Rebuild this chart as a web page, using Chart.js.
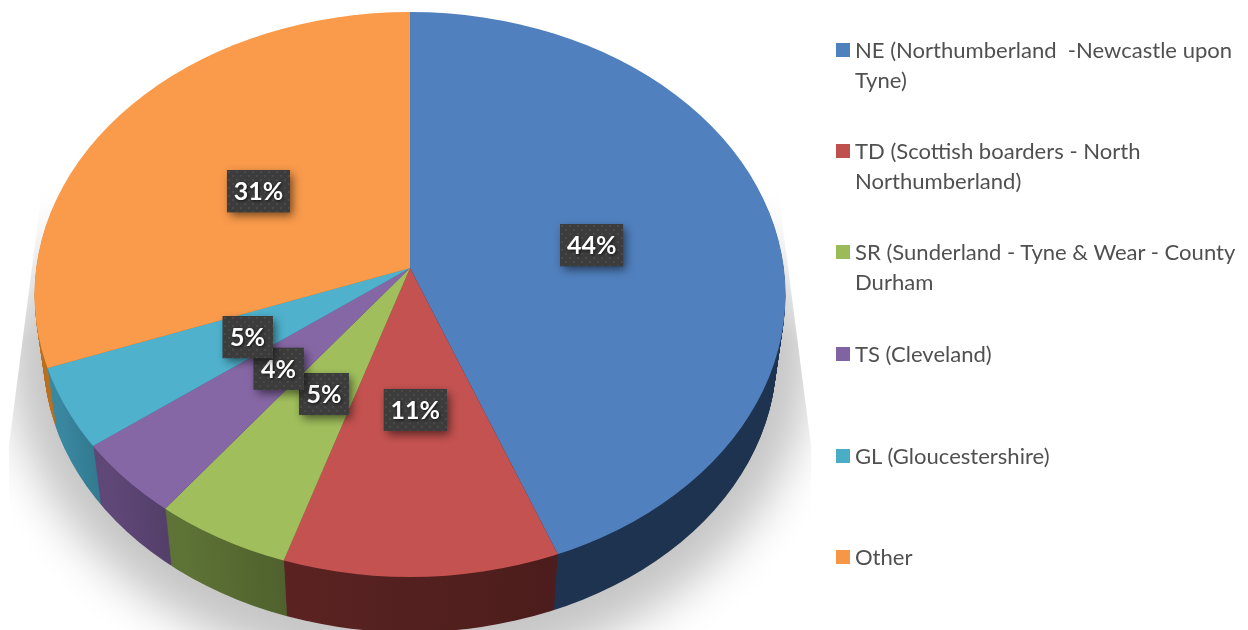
<!DOCTYPE html>
<html><head><meta charset="utf-8">
<script src="https://cdn.jsdelivr.net/npm/chart.js@4"></script>
<style>
html,body{margin:0;padding:0;background:#fff;width:1248px;height:630px;overflow:hidden}
#c{position:absolute;left:0;top:0}
.sw{position:absolute;left:836px;width:14px;height:14px}
.tx{position:absolute;left:855px;font:22.05px/30px Lato,sans-serif;color:#505050;white-space:pre}
</style></head><body>
<canvas id="c" width="1248" height="630"></canvas>
<script>
const categories = ['NE (Northumberland  -Newcastle upon Tyne)','TD (Scottish boarders - North Northumberland)','SR (Sunderland - Tyne & Wear - County Durham','TS (Cleveland)','GL (Gloucestershire)','Other'];
const legendLines = [['NE (Northumberland  -Newcastle upon','Tyne)'],['TD (Scottish boarders - North','Northumberland)'],['SR (Sunderland - Tyne & Wear - County','Durham'],['TS (Cleveland)'],['GL (Gloucestershire)'],['Other']];
const values = [44.1, 10.9, 5.4, 4.4, 4.6, 30.6];
const topColors = ['#5080BE','#C45250','#A0BF5C','#8667A5','#4FB1CC','#FA9A4B'];
const swatchColors = ['#4F81BD','#C0504D','#9BBB59','#8064A2','#4BACC6','#F79646'];
const sideLeft = ['#1E3350','#5A2322','#5E7336','#5F4777','#3A87A0','#B8701F'];
const sideRight = ['#1E3350','#4C1D1C','#4E5F2C','#503C65','#2E7488','#B8701F'];
const legendTops = [35, 136, 237, 339, 441, 542];

const A = {cx:410, apexY:268, ecy:294.5, rx:375.5, ry:282.5, radius:420, depth:62, shrink:0.024};
const sy = A.ry / A.rx;

function ellipseClip(ctx){ ctx.beginPath(); ctx.ellipse(A.cx,A.ecy,A.rx,A.ry,0,0,Math.PI*2); ctx.clip(); }
function apexTransform(ctx){ ctx.translate(A.cx,A.apexY); ctx.scale(1,sy); ctx.translate(-A.cx,-A.apexY); }

function drawShadow(ctx){
  ctx.save();
  ctx.beginPath();
  ctx.moveTo(42,190);ctx.lineTo(9,445);ctx.lineTo(9,630);ctx.lineTo(811,630);ctx.lineTo(811,445);ctx.lineTo(778,190);ctx.closePath();
  ctx.clip();
  ctx.shadowColor='#c6c6c6'; ctx.shadowBlur=46; ctx.shadowOffsetX=3000;
  ctx.fillStyle='#000';
  ctx.beginPath(); ctx.ellipse(A.cx-3000,350,402,325,0,0,Math.PI*2); ctx.fill();
  ctx.restore();
  const g=ctx.createLinearGradient(0,190,0,340);
  g.addColorStop(0,'rgba(255,255,255,1)'); g.addColorStop(1,'rgba(255,255,255,0)');
  ctx.fillStyle=g; ctx.fillRect(0,190,830,150);
}

function drawSides(chart){
  const ctx=chart.ctx, arcs=chart.getDatasetMeta(0).data;
  const saved=arcs.map(a=>a.options);
  arcs.forEach((a,i)=>{
    const x0=A.cx+A.rx*Math.cos(a.startAngle), x1=A.cx+A.rx*Math.cos(a.endAngle);
    const g=ctx.createLinearGradient(Math.min(x0,x1),0,Math.max(x0,x1)+1,0);
    g.addColorStop(0,sideLeft[i]); g.addColorStop(1,sideRight[i]);
    a.options=Object.assign({},saved[i],{backgroundColor:g});
  });
  for(let k=A.depth;k>=1;k--){
    const f=k/A.depth, t=1-A.shrink*f;
    ctx.save();
    ctx.translate(A.cx,A.ecy+k); ctx.scale(t,t); ctx.translate(-A.cx,-A.ecy);
    ellipseClip(ctx); apexTransform(ctx);
    arcs.forEach(a=>a.draw(ctx));
    ctx.restore();
  }
  arcs.forEach((a,i)=>{a.options=saved[i];});
}

function dotPattern(ctx){
  const p=document.createElement('canvas'); p.width=8;p.height=8;
  const c=p.getContext('2d');
  c.fillStyle='#3c3c3c'; c.fillRect(0,0,8,8);
  c.fillStyle='rgba(255,255,255,0.07)';
  c.fillRect(1,1,2,2); c.fillRect(5,5,2,2);
  return ctx.createPattern(p,'repeat');
}

function drawLabels(chart){
  const ctx=chart.ctx, arcs=chart.getDatasetMeta(0).data;
  const total=values.reduce((a,b)=>a+b,0), pat=dotPattern(ctx);
  arcs.forEach((a,i)=>{
    const mid=(a.startAngle+a.endAngle)/2, r=A.radius*0.44;
    const x=a.x+r*Math.cos(mid), y=a.y+r*Math.sin(mid)*sy+3;
    const txt=Math.round(values[i]/total*100)+'%';
    const w=txt.length>2?63:50, h=42;
    ctx.save();
    ctx.shadowColor='rgba(0,0,0,0.55)'; ctx.shadowBlur=9; ctx.shadowOffsetX=3; ctx.shadowOffsetY=4;
    ctx.fillStyle='#3c3c3c'; ctx.fillRect(x-w/2,y-h/2,w,h);
    ctx.restore();
    ctx.save();
    ctx.translate(Math.round(x-w/2),Math.round(y-h/2));
    ctx.fillStyle=pat; ctx.fillRect(0,0,w,h);
    ctx.restore();
    ctx.save();
    ctx.font='bold 25px Lato, sans-serif'; ctx.textAlign='center'; ctx.textBaseline='middle';
    ctx.shadowColor='rgba(0,0,0,0.7)'; ctx.shadowBlur=3; ctx.shadowOffsetX=1; ctx.shadowOffsetY=1;
    ctx.fillStyle='#ffffff'; ctx.fillText(txt,x,y+1);
    ctx.restore();
  });
}

const pie3d={
  id:'pie3d',
  beforeDatasetsDraw(chart){ drawShadow(chart.ctx); drawSides(chart); },
  beforeDatasetDraw(chart){ const c=chart.ctx; c.save(); ellipseClip(c); apexTransform(c); },
  afterDatasetDraw(chart){ chart.ctx.restore(); },
  afterDatasetsDraw(chart){ drawLabels(chart); }
};

new Chart(document.getElementById('c'),{
  type:'pie',
  data:{labels:categories,datasets:[{data:values,backgroundColor:topColors,borderWidth:0,clip:false,radius:A.radius}]},
  options:{
    responsive:false,animation:false,events:[],
    layout:{padding:{left:0,top:0,right:428,bottom:94}},
    plugins:{legend:{display:false},tooltip:{enabled:false}}
  },
  plugins:[pie3d]
});

legendLines.forEach((lines,i)=>{
  const t=document.createElement('div'); t.className='tx'; t.style.top=legendTops[i]+'px'; t.textContent=lines.join('\n'); document.body.appendChild(t);
  const s=document.createElement('div'); s.className='sw'; s.style.top=(legendTops[i]+8)+'px'; s.style.background=swatchColors[i]; document.body.appendChild(s);
});
</script>
</body></html>
